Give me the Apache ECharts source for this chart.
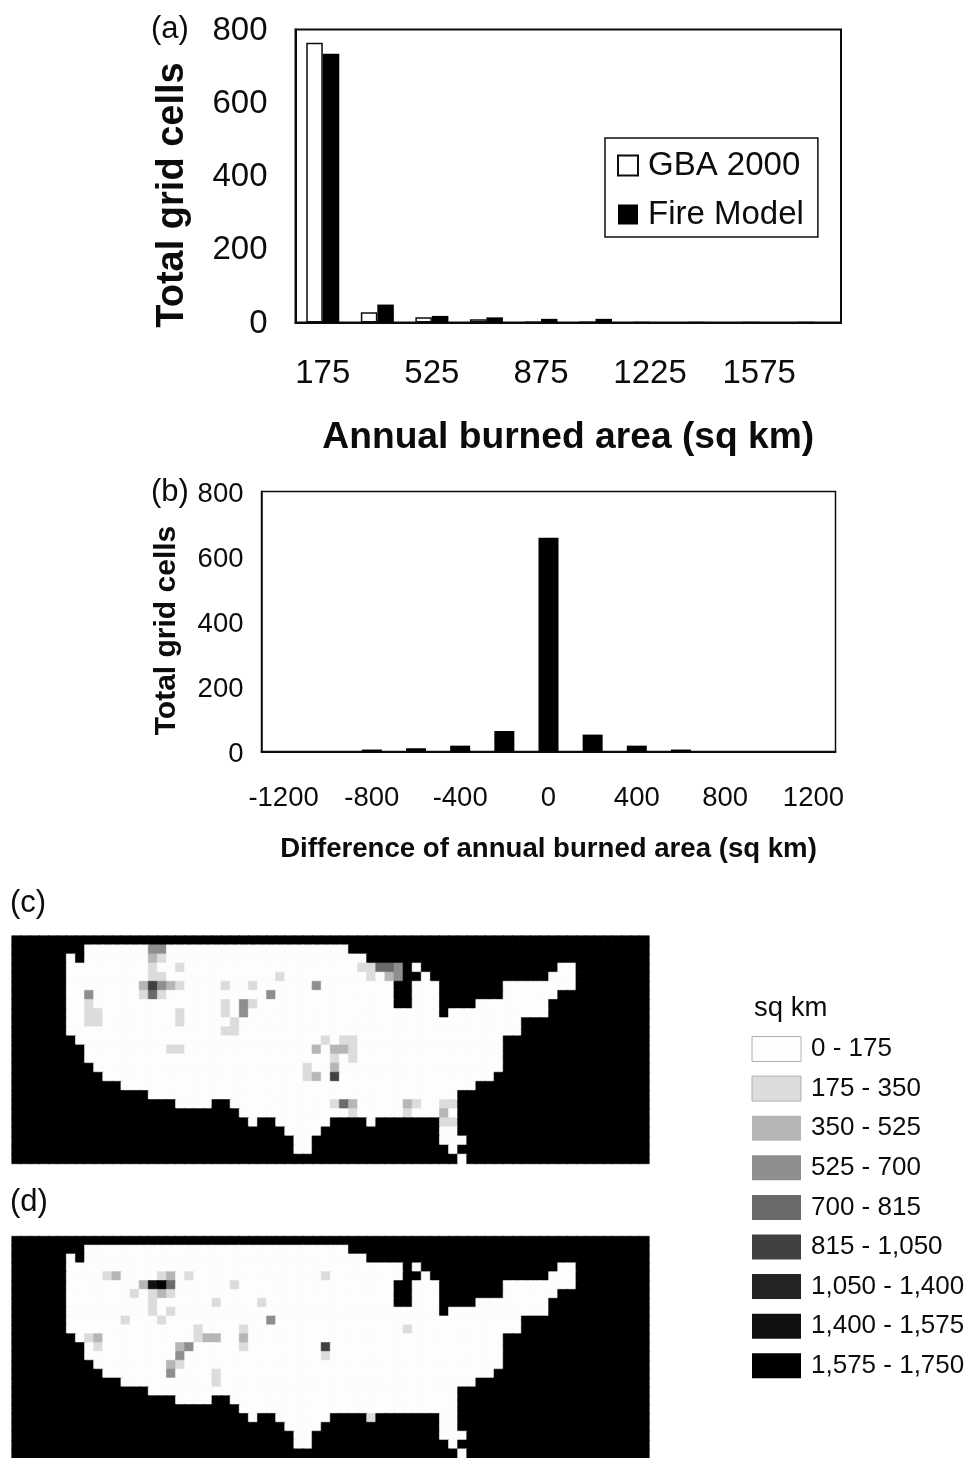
<!DOCTYPE html>
<html><head><meta charset="utf-8">
<style>html,body{margin:0;padding:0;background:#fff;overflow:hidden}#c{width:969px;height:1458px}</style>
<script src="https://cdn.jsdelivr.net/npm/echarts@6/dist/echarts.min.js"></script>
</head><body><div id="c"></div>
<script>
// Panel (a)
const areaBins = ['175','350','525','700','875','1050','1225','1400','1575','1750'];
const gbaCells = [764,28,14,9,1,1,0,0,0,0];
const modelCells = [734,49,18,14,10,10,0,0,0,0];
// Panel (b)
const diffBins = ['-1200','-1000','-800','-600','-400','-200','0','200','400','600','800','1000','1200'];
const diffCells = [0,0,6,10,18,63,658,52,18,6,0,0,0];
// Panels (c),(d): land mask as inclusive column runs per row
const landRuns = [
 [],[[8,36]],[[6,6],[8,38]],[[6,42],[44,44],[60,61]],[[6,42],[45,45],[59,61]],
 [[6,41],[44,46],[54,61]],[[6,41],[44,46],[54,59]],[[6,41],[44,46],[51,58]],[[6,46],[48,58]],
 [[6,55]],[[6,55]],[[7,53]],[[8,53]],[[8,53]],[[9,53]],[[10,52]],[[12,50]],[[15,48]],
 [[18,21],[24,48]],[[25,48]],[[26,26],[29,34],[39,39],[47,48]],[[30,33],[47,48]],
 [[31,32],[47,49]],[[31,32],[48,48]],[[49,49]]
];
// [row, col, class]
const cellsC = [
 [1,15,3],[1,16,3],[2,15,2],[2,16,1],[3,15,1],[3,18,1],[4,15,1],[4,16,1],[4,29,1],
 [5,14,2],[5,15,5],[5,16,3],[5,17,2],[5,18,1],[5,23,1],[5,26,1],[5,33,3],
 [6,8,3],[6,14,1],[6,15,4],[6,16,1],[6,28,3],[7,8,1],[7,23,1],[7,25,3],[7,26,1],
 [8,8,1],[8,9,1],[8,18,1],[8,23,1],[8,25,3],[9,8,1],[9,9,1],[9,18,1],[9,24,1],[10,23,1],[10,24,1],
 [11,34,1],[11,36,1],[11,37,1],[12,17,1],[12,18,1],[12,33,2],[12,35,2],[12,36,2],[12,37,1],
 [13,35,1],[13,37,1],[14,32,1],[14,35,2],[15,32,1],[15,33,2],[15,35,5],
 [18,35,1],[18,36,4],[18,37,2],[18,43,2],[18,44,1],[18,47,1],[18,48,1],
 [19,37,1],[19,43,1],[19,47,2],[20,47,1],[20,48,1],
 [3,38,1],[3,39,1],[3,40,4],[3,41,4],[3,42,3],[4,39,1],[4,41,2],[4,42,3]
];
const cellsD = [
 [4,10,1],[4,11,2],[4,16,1],[4,17,2],[4,19,1],[4,34,1],
 [5,14,2],[5,15,7],[5,16,8],[5,17,4],[5,24,1],
 [6,13,1],[6,15,1],[6,16,2],[6,17,1],[7,15,1],[7,22,1],[7,27,1],[8,15,1],[8,17,1],
 [9,12,1],[9,16,1],[9,28,3],[10,20,1],[10,25,1],[10,43,1],
 [11,8,1],[11,9,2],[11,20,1],[11,21,2],[11,22,2],[11,25,2],
 [12,9,1],[12,18,2],[12,19,3],[12,25,1],[12,34,5],[13,18,3],[13,34,1],
 [14,17,2],[14,18,1],[15,17,3],[15,22,1],[16,22,1],[20,39,1]
];
const classLabels = ['0 - 175','175 - 350','350 - 525','525 - 700','700 - 815','815 - 1,050','1,050 - 1,400','1,400 - 1,575','1,575 - 1,750'];
const classColors = ['#fdfdfd','#dcdcdc','#b6b6b6','#8e8e8e','#6a6a6a','#404040','#242424','#111111','#000000'];

const ROWS = landRuns.length, COLS = 70, SEA = 8;
function buildCells(over){
  const out = [];
  for(let r=0;r<ROWS;r++) for(let c=0;c<COLS;c++){
    const land = landRuns[r].some(u=>c>=u[0]&&c<=u[1]);
    out.push([c,r,land?0:SEA]);
  }
  over.forEach(o=>{ out[o[0]*COLS+o[1]][2]=o[2]; });
  // each cell gets a hairline border in its own class colour so no seams show between cells
  return out.map(v=>({value:v,itemStyle:{borderColor:classColors[v[2]],borderWidth:0.6}}));
}
const rowIdx = Array.from({length:ROWS},(_,i)=>i), colIdx = Array.from({length:COLS},(_,i)=>i);
const ink = '#0c0c0c', F = '"Liberation Sans",Arial,sans-serif';
const chart = echarts.init(document.getElementById('c'),null,{renderer:'canvas'});
const panelLabel = (t,x,y)=>({text:t,left:x,top:y,padding:0,textStyle:{fontFamily:F,fontSize:31,fontWeight:'normal',color:ink}});
chart.setOption({
  animation:false, backgroundColor:'#fff',
  title:[panelLabel('(a)',151,14),panelLabel('(b)',151,477),panelLabel('(c)',10,888),panelLabel('(d)',10,1187),
    {text:'sq km',left:754,top:994,padding:0,textStyle:{fontFamily:F,fontSize:27.5,fontWeight:'normal',color:ink}}],
  grid:[
    {left:295.5,top:29.5,width:545.5,height:293,show:true,borderColor:ink,borderWidth:2,backgroundColor:'#fff'},
    {left:261.5,top:491.5,width:574,height:260,show:true,borderColor:ink,borderWidth:1.5,backgroundColor:'#fff'},
    {left:12,top:936,width:637,height:227.5},
    {left:12,top:1236.5,width:637,height:227.5}
  ],
  xAxis:[
    {gridIndex:0,type:'category',data:areaBins,axisTick:{show:false},axisLine:{lineStyle:{color:ink,width:2}},
     axisLabel:{interval:1,fontFamily:F,fontSize:33,color:ink,margin:35},
     name:'Annual burned area (sq km)',nameLocation:'middle',nameGap:97,
     nameTextStyle:{fontFamily:F,fontSize:37.2,fontWeight:'bold',color:ink}},
    {gridIndex:1,type:'category',data:diffBins,axisTick:{show:false},axisLine:{lineStyle:{color:ink,width:2}},
     axisLabel:{interval:1,fontFamily:F,fontSize:27.5,color:ink,margin:33},
     name:'Difference of annual burned area (sq km)',nameLocation:'middle',nameGap:84,
     nameTextStyle:{fontFamily:F,fontSize:27.6,fontWeight:'bold',color:ink}},
    {gridIndex:2,type:'category',data:colIdx,show:false},
    {gridIndex:3,type:'category',data:colIdx,show:false}
  ],
  yAxis:[
    {gridIndex:0,type:'value',min:0,max:800,interval:200,splitLine:{show:false},axisTick:{show:false},
     axisLine:{show:true,lineStyle:{color:ink,width:2}},axisLabel:{fontFamily:F,fontSize:33,color:ink,margin:28,verticalAlign:'top',lineHeight:2},
     name:'Total grid cells',nameLocation:'middle',nameGap:104,
     nameTextStyle:{fontFamily:F,fontSize:38,fontWeight:'bold',color:ink,padding:[0,38,0,0]}},
    {gridIndex:1,type:'value',min:0,max:800,interval:200,splitLine:{show:false},axisTick:{show:false},
     axisLine:{show:true,lineStyle:{color:ink,width:1.5}},axisLabel:{fontFamily:F,fontSize:27.5,color:ink,margin:18,verticalAlign:'top',lineHeight:6},
     name:'Total grid cells',nameLocation:'middle',nameGap:80,
     nameTextStyle:{fontFamily:F,fontSize:30,fontWeight:'bold',color:ink,padding:[0,18,0,0]}},
    {gridIndex:2,type:'category',data:rowIdx,inverse:true,show:false},
    {gridIndex:3,type:'category',data:rowIdx,inverse:true,show:false}
  ],
  legend:{left:605,top:138,orient:'vertical',padding:[11,14,6,12],borderColor:ink,borderWidth:1.5,
    backgroundColor:'#fff',icon:'rect',itemWidth:20,itemHeight:20,itemGap:16,data:['GBA 2000','Fire Model'],
    textStyle:{fontFamily:F,fontSize:33,color:ink,padding:[0,0,0,5]}},
  visualMap:{type:'piecewise',seriesIndex:[3,4],dimension:2,orient:'vertical',left:752,top:1036,
    itemWidth:49,itemHeight:25,itemGap:13.6,itemSymbol:'rect',textGap:10,align:'left',selectedMode:false,padding:0,inverse:true,
    textStyle:{fontFamily:F,fontSize:26,color:ink},
    pieces:classLabels.map((l,i)=>({value:i,label:l,color:classColors[i]}))},
  graphic:[{type:'rect',z:100,silent:true,shape:{x:752,y:1036.5,width:49,height:25},style:{fill:'none',stroke:'#b0b0b0',lineWidth:1}},
           {type:'rect',z:100,silent:true,shape:{x:752,y:1076.1,width:49,height:25},style:{fill:'none',stroke:'#b0b0b0',lineWidth:1}}],
  series:[
    {name:'GBA 2000',type:'bar',xAxisIndex:0,yAxisIndex:0,data:gbaCells,barWidth:16.5,barGap:0,
     itemStyle:{color:'#fff',borderColor:ink,borderWidth:1.5}},
    {name:'Fire Model',type:'bar',xAxisIndex:0,yAxisIndex:0,data:modelCells,barWidth:16.5,barGap:0,
     itemStyle:{color:'#000'}},
    {name:'Difference',type:'bar',xAxisIndex:1,yAxisIndex:1,data:diffCells,barWidth:20,itemStyle:{color:'#000'}},
    {name:'GBA 2000 map',type:'heatmap',xAxisIndex:2,yAxisIndex:2,data:buildCells(cellsC),progressive:0,emphasis:{disabled:true}},
    {name:'Fire Model map',type:'heatmap',xAxisIndex:3,yAxisIndex:3,data:buildCells(cellsD),progressive:0,emphasis:{disabled:true}}
  ]
});
</script></body></html>
